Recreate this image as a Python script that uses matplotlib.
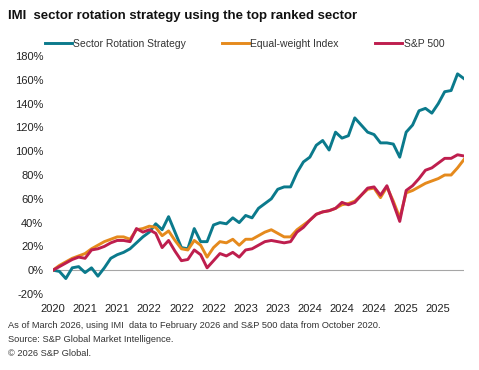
import matplotlib.pyplot as plt
from matplotlib.ticker import FuncFormatter

plt.rcParams['font.family'] = ['Liberation Sans', 'DejaVu Sans']

# Monthly cumulative returns (%), October 2020 to February 2026
rotation = [0, -1, -7, 2, 3, -2, 2, -5, 2, 10, 13, 15, 18, 23, 28, 32, 39, 34,
            45, 32, 19, 18, 35, 24, 24, 38, 40, 39, 44, 40, 46, 44, 52, 56, 60,
            68, 70, 70, 82, 91, 95, 105, 109, 101, 116, 111, 113, 128, 122, 116,
            114, 107, 107, 106, 95, 116, 122, 134, 136, 132, 140, 150, 151, 165,
            161]
equal_weight = [0, 4, 7, 10, 12, 14, 18, 21, 24, 26, 28, 28, 26, 34, 35, 37, 36,
                29, 33, 25, 18, 17, 25, 21, 11, 19, 24, 23, 26, 21, 26, 26, 29,
                32, 34, 31, 28, 28, 34, 38, 42, 47, 49, 50, 52, 55, 56, 58, 63,
                68, 69, 61, 70, 58, 44, 65, 67, 70, 73, 75, 77, 80, 80, 86, 93]
sp500 = [0, 3, 6, 9, 11, 10, 17, 18, 20, 23, 25, 25, 24, 35, 32, 34, 31, 19, 25,
         16, 8, 9, 17, 13, 2, 8, 14, 12, 15, 11, 17, 18, 21, 24, 25, 24, 23, 24,
         32, 36, 42, 47, 49, 50, 52, 57, 55, 57, 63, 69, 70, 63, 71, 56, 41, 67,
         71, 77, 84, 86, 90, 94, 94, 97, 96]

tick_labels = ['2020', '2021', '2021', '2022', '2022', '2022', '2023', '2023',
               '2024', '2024', '2024', '2025', '2025']

months = list(range(len(rotation)))

fig = plt.figure(figsize=(4.79, 3.70), dpi=100)
ax = fig.add_axes([0.1106, 0.2054, 0.858, 0.6432])

ax.axhline(0, color='#A6A6A6', lw=0.8, zorder=1)
ax.plot(months, rotation, color='#0B7A8C', lw=2.1, label='Sector Rotation Strategy')
ax.plot(months, equal_weight, color='#E58A1D', lw=2.1, label='Equal-weight Index')
ax.plot(months, sp500, color='#BE1E4E', lw=2.1, label='S&P 500')

ax.set_xlim(0, len(months) - 1)
ax.set_ylim(-20, 180)
ax.set_yticks(range(-20, 181, 20))
ax.yaxis.set_major_formatter(FuncFormatter(lambda v, p: f'{v:.0f}%'))
ax.set_xticks(range(0, len(months), 5))
ax.set_xticklabels(tick_labels)
ax.tick_params(length=0, labelsize=8, colors='#222222')
ax.tick_params(axis='y', pad=7)
ax.tick_params(axis='x', pad=7)
for s in ax.spines.values():
    s.set_visible(False)

ax.legend(loc='lower center', bbox_to_anchor=(0.466, 1.0), ncol=3, frameon=False,
          fontsize=7.5, handlelength=2.6, handletextpad=0.1, columnspacing=3.5,
          borderaxespad=0.3, labelcolor='#333333')

fig.text(0.017, 0.958, 'IMI  sector rotation strategy using the top ranked sector',
         fontsize=9.5, fontweight='bold', va='center', color='#111111')
fig.text(0.017, 0.120, 'As of March 2026, using IMI  data to February 2026 and '
         'S&P 500 data from October 2020.', fontsize=6.7, va='center', color='#333333')
fig.text(0.017, 0.082, 'Source: S&P Global Market Intelligence.', fontsize=6.7,
         va='center', color='#333333')
fig.text(0.017, 0.045, '© 2026 S&P Global.', fontsize=6.7, va='center', color='#333333')

plt.savefig('out.png', dpi=100)
